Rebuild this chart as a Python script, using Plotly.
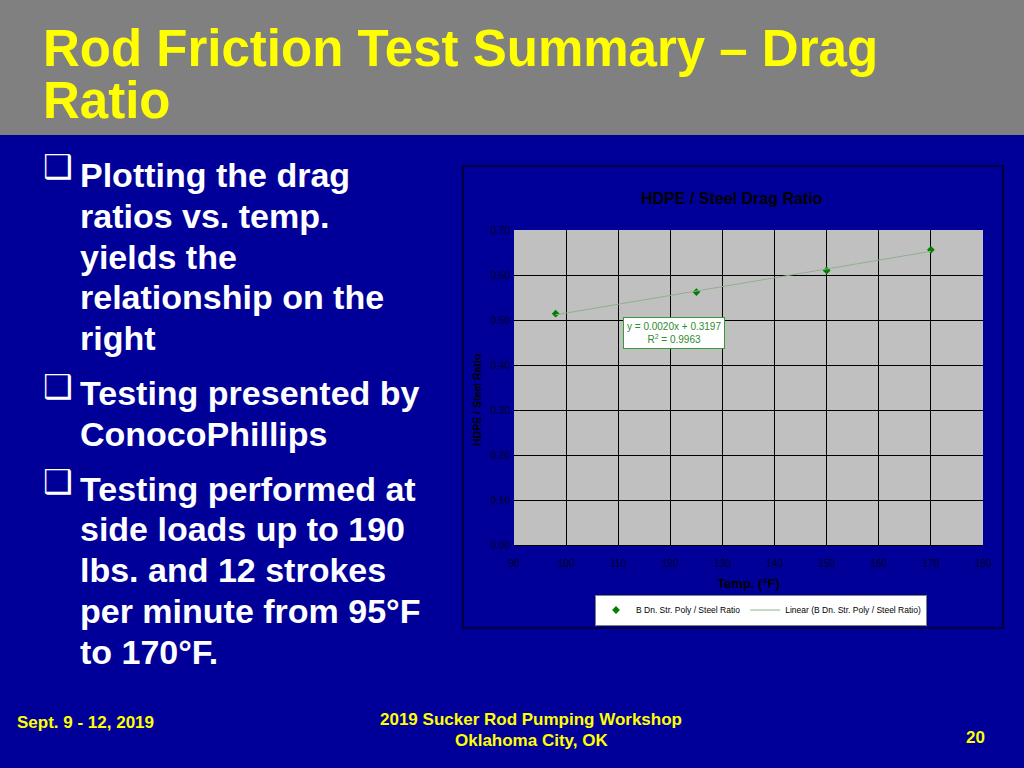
import plotly.graph_objects as go
import numpy as np

# data
temp_f = [98, 125, 150, 170]
drag_ratio = [0.514, 0.562, 0.610, 0.656]

x_ticks = [90, 100, 110, 120, 130, 140, 150, 160, 170, 180]
y_ticks = [0.0, 0.1, 0.2, 0.3, 0.4, 0.5, 0.6, 0.7]

series_name = "B Dn. Str. Poly / Steel Ratio"
trend_name = "Linear (B Dn. Str. Poly / Steel Ratio)"
eq_text = "y = 0.0020x + 0.3197<br>R<sup>2</sup> = 0.9963"

slide_title = ["Rod Friction Test Summary \u2013 Drag", "Ratio"]
bullets = [
    ["Plotting the drag", "ratios vs. temp.", "yields the",
     "relationship on the", "right"],
    ["Testing presented by", "ConocoPhillips"],
    ["Testing performed at", "side loads up to 190", "lbs. and 12 strokes",
     "per minute from 95\u00b0F", "to 170\u00b0F."],
]
footer_left = "Sept. 9 - 12, 2019"
footer_mid = ["2019 Sucker Rod Pumping Workshop", "Oklahoma City, OK"]
footer_page = "20"

W, H = 1024, 768
BLUE = "#000099"
YELLOW = "#FFFF00"
NARROW = "Liberation Sans Narrow, Arial Narrow, Liberation Sans, sans-serif"
ARIAL = "Liberation Sans, Arial, sans-serif"


def px(x):
    return x / W


def py(y):
    return 1 - y / H


def note(text, x, y, size, color, xanchor="left", family=ARIAL, **kw):
    return dict(text=text, x=px(x), y=py(y), xref="paper", yref="paper",
                xanchor=xanchor, yanchor="middle", showarrow=False,
                font=dict(family=family, size=size, color=color), **kw)


# linear trend through the points
slope, icpt = np.polyfit(temp_f, drag_ratio, 1)
trend_x = [min(temp_f), max(temp_f)]
trend_y = [slope * v + icpt for v in trend_x]

fig = go.Figure()
fig.add_trace(go.Scatter(x=temp_f, y=drag_ratio, mode="markers",
                         name=series_name,
                         marker=dict(symbol="diamond", size=6, color="#008000")))
fig.add_trace(go.Scatter(x=trend_x, y=trend_y, mode="lines", name=trend_name,
                         line=dict(color="#8fb08f", width=1)))

anns = []
# slide title
for line, yc in zip(slide_title, [48, 100]):
    anns.append(note("<b>%s</b>" % line, 41, yc, 51, YELLOW))

# bullet text
line_ys = [[175, 216, 257, 297, 338], [393, 434], [489, 529, 570, 611, 652]]
box_ys = [167, 386, 481]
for lines, ys, by in zip(bullets, line_ys, box_ys):
    anns.append(note("\u2751", 41, by, 33, "white", family="DejaVu Sans"))
    for line, yc in zip(lines, ys):
        anns.append(note("<b>%s</b>" % line, 78, yc, 34, "white"))

# footer
anns.append(note("<b>%s</b>" % footer_left, 15, 722, 17, YELLOW))
for line, yc in zip(footer_mid, [719, 740]):
    anns.append(note("<b>%s</b>" % line, 531, yc, 17, YELLOW, xanchor="center"))
anns.append(note("<b>%s</b>" % footer_page, 987, 737, 17, YELLOW, xanchor="right"))

# chart title and y axis title
anns.append(note("<b>HDPE / Steel Drag Ratio</b>", 732, 198, 16, "black",
                 xanchor="center", family=NARROW))
anns.append(note("<b>HDPE / Steel Ratio</b>", 477, 400, 10.5, "black",
                 xanchor="center", family=NARROW, textangle=-90))

# trendline equation box
anns.append(dict(text=eq_text, x=120.7, y=0.471, xref="x", yref="y",
                 xanchor="center", yanchor="middle", showarrow=False,
                 bgcolor="white", bordercolor="#3a9a3a", borderwidth=1, borderpad=3,
                 font=dict(family=NARROW, size=10, color="#2e8b2e")))

shapes = [
    dict(type="rect", xref="paper", yref="paper", x0=0, x1=1, y0=py(135), y1=1,
         fillcolor="#808080", line=dict(width=0), layer="below"),
    dict(type="rect", xref="paper", yref="paper", x0=px(463), x1=px(1003),
         y0=py(628), y1=py(166), line=dict(color="#000022", width=1.5), layer="below"),
]

fig.update_layout(
    width=W, height=H,
    margin=dict(l=0, r=0, t=0, b=0, pad=0, autoexpand=False),
    paper_bgcolor=BLUE,
    plot_bgcolor="#C0C0C0",
    annotations=anns,
    shapes=shapes,
    showlegend=True,
    legend=dict(orientation="h", x=px(761), y=py(610), xanchor="center", yanchor="middle",
                bgcolor="white", bordercolor="#808080", borderwidth=1,
                font=dict(family=NARROW, size=8.5, color="black"),
                itemwidth=30, tracegroupgap=0),
    xaxis=dict(domain=[px(514), px(983)], range=[90, 180], tickvals=x_ticks,
               showgrid=True, gridcolor="black", gridwidth=1, zeroline=False,
               showline=True, linecolor="black", mirror=False,
               ticks="", ticklabelstandoff=9,
               tickfont=dict(family=NARROW, size=10, color="#000022"),
               title=dict(text="<b>Temp. (\u00b0F)</b>", standoff=10,
                          font=dict(family=NARROW, size=13, color="black"))),
    yaxis=dict(domain=[py(545), py(230)], range=[0, 0.7], tickvals=y_ticks,
               tickformat=".2f", showgrid=True, gridcolor="black", gridwidth=1,
               zeroline=False, showline=False, ticks="", ticklabelstandoff=3,
               tickfont=dict(family=NARROW, size=10, color="#000022")),
)

fig.write_html("out.html", config={"displayModeBar": False},
               post_script="document.body.style.margin='0';")
